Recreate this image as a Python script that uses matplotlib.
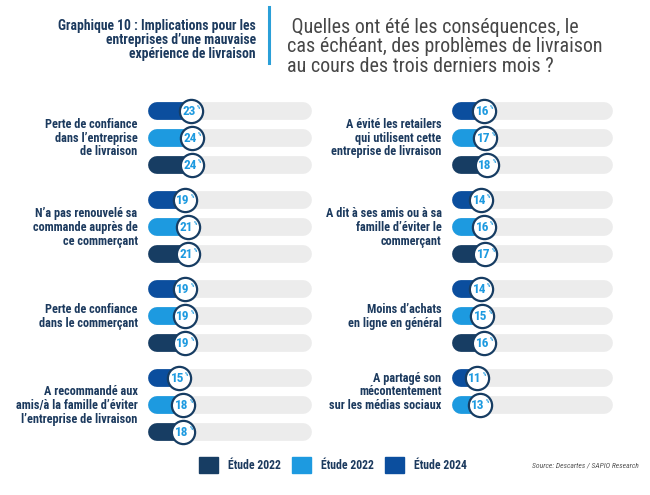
import matplotlib
matplotlib.use("Agg")
import matplotlib.pyplot as plt
from matplotlib.lines import Line2D
from matplotlib.patches import Patch

plt.rcParams['font.family'] = ['Roboto Condensed', 'Liberation Sans Narrow', 'Roboto', 'DejaVu Sans']

# données
labels_gauche = ["Perte de confiance\ndans l’entreprise\nde livraison",
                 "N’a pas renouvelé sa\ncommande auprès de\nce commerçant",
                 "Perte de confiance\ndans le commerçant",
                 "A recommandé aux\namis/à la famille d’éviter\nl’entreprise de livraison"]
gauche_2024 = [23, 19, 19, 15]
gauche_2022_clair = [24, 21, 19, 18]
gauche_2022_fonce = [24, 21, 19, 18]

labels_droite = ["A évité les retailers\nqui utilisent cette\nentreprise de livraison",
                 "A dit à ses amis ou à sa\nfamille d’éviter le\ncommerçant",
                 "Moins d’achats\nen ligne en général",
                 "A partagé son\nmécontentement\nsur les médias sociaux"]
droite_2024 = [16, 14, 14, 11]
droite_2022_clair = [17, 16, 15, 13]
droite_2022_fonce = [18, 17, 16, None]

legende = ["Étude 2022", "Étude 2022", "Étude 2024"]

BLEU_MOYEN = "#0b4e9e"
BLEU_CLAIR = "#1d9ae0"
MARINE = "#173d63"
GRIS = "#ececec"
TEXTE = "#1c3a5e"

W, H = 650, 495
fig = plt.figure(figsize=(W / 100, H / 100), dpi=100)


def dessiner_colonne(ax, labels, series):
    couleurs = [BLEU_MOYEN, BLEU_CLAIR, MARINE]
    for g, lab in enumerate(labels):
        ys = []
        for b, serie in enumerate(series):
            v = serie[g]
            if v is None:
                continue
            y = g * 3.3 + b
            ys.append(y)
            ax.plot([0, 100], [y, y], color=GRIS, lw=12.8, solid_capstyle='round',
                    zorder=1, clip_on=False)
            ax.plot([0, v], [y, y], color=couleurs[b], lw=12.8, solid_capstyle='round',
                    zorder=2, clip_on=False)
            ax.scatter([v], [y], s=280, facecolor='white', edgecolor=MARINE, lw=1.6,
                       zorder=3, clip_on=False)
            ax.annotate(str(v), (v, y), xytext=(-1.2, -0.3), textcoords='offset points',
                        ha='center', va='center', fontsize=9.5, fontweight='bold',
                        color=BLEU_CLAIR, zorder=4)
            ax.annotate("%", (v, y), xytext=(5.6, 2.8), textcoords='offset points',
                        ha='center', va='center', fontsize=3.8, fontweight='bold',
                        color=BLEU_CLAIR, zorder=4)
        ax.annotate(lab, (0, sum(ys) / len(ys)), xytext=(-14, 0), textcoords='offset points',
                    ha='right', va='center', multialignment='right', fontsize=8.8,
                    fontweight='bold', color=TEXTE, linespacing=1.08)
    ax.set_xlim(0, 100)
    ax.set_ylim(12.4, -0.5)
    ax.axis('off')


ax1 = fig.add_axes([157 / W, 49 / H, 146 / W, 348.4 / H])
dessiner_colonne(ax1, labels_gauche, [gauche_2024, gauche_2022_clair, gauche_2022_fonce])
ax2 = fig.add_axes([461 / W, 49 / H, 143 / W, 348.4 / H])
dessiner_colonne(ax2, labels_droite, [droite_2024, droite_2022_clair, droite_2022_fonce])

# en-tête
fig.text(256 / W, 1 - 40 / H,
         "Graphique 10 : Implications pour les\nentreprises d’une mauvaise\nexpérience de livraison",
         ha='right', va='center', multialignment='right', fontsize=9.8, fontweight='bold',
         color=TEXTE, linespacing=1.0)
fig.add_artist(Line2D([269 / W, 269 / W], [1 - 7 / H, 1 - 63 / H], color="#2a9fd8", lw=2.2))
fig.text(287 / W, 1 - 47 / H,
         " Quelles ont été les conséquences, le\ncas échéant, des problèmes de livraison\nau cours des trois derniers mois ?",
         ha='left', va='center', fontsize=14.4, color="#474747", linespacing=1.03)

# légende
poignees = [Patch(color=MARINE), Patch(color=BLEU_CLAIR), Patch(color=BLEU_MOYEN)]
leg = fig.legend(poignees, legende, loc='center', bbox_to_anchor=(333 / W, 30 / H), ncol=3,
                 frameon=False, handlelength=1.6, handleheight=1.6, handletextpad=0.8,
                 columnspacing=1.0, prop={'size': 8.5, 'weight': 'bold'})
for t in leg.get_texts():
    t.set_color(TEXTE)

fig.text(532 / W, 30 / H, "Source: Descartes / SAPIO Research", ha='left', va='center',
         fontsize=5.5, style='italic', color="#555555")

fig.savefig("out.png", dpi=100)
